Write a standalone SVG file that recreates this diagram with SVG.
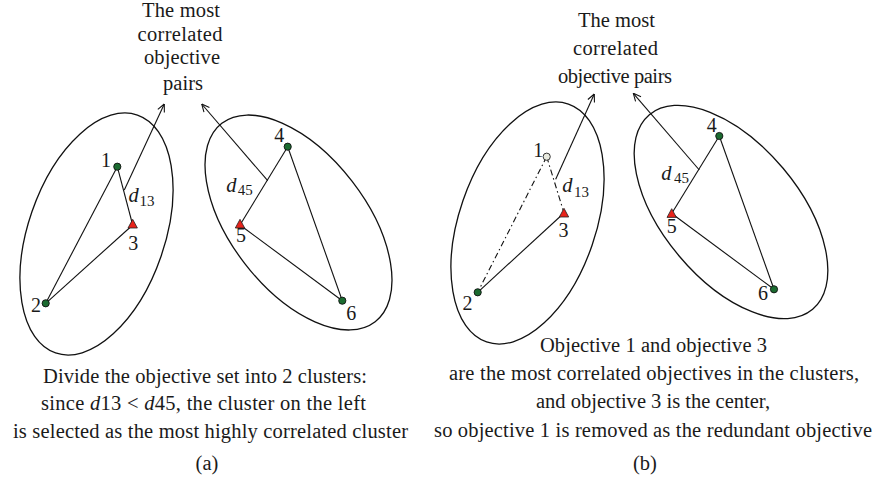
<svg xmlns="http://www.w3.org/2000/svg" width="876" height="487" viewBox="0 0 876 487">
<style>
text{font-family:"Liberation Serif","Times New Roman",serif;fill:#1a1a1a;font-size:20.5px}
.m{text-anchor:middle}
.it{font-style:italic}
.sub{font-size:15px}
.lbl{font-size:20px}
.edge{stroke:#111;stroke-width:1.1;fill:none}
.dd{stroke-dasharray:6 3 1.5 3}
.arr{stroke:#111;stroke-width:1.1;fill:none;marker-end:url(#ah)}
.cl{stroke:#111;stroke-width:1.3;fill:none}
.g{fill:#1b6b30;stroke:#111;stroke-width:0.9}
.w{fill:#e8eadf;stroke:#222;stroke-width:0.9}
.r{fill:#e8231b;stroke:#222;stroke-width:0.8}
</style>
<defs>
<marker id="ah" viewBox="0 0 10 10" refX="9.5" refY="5" markerWidth="9" markerHeight="9" markerUnits="userSpaceOnUse" orient="auto">
<path d="M1,1 L9.5,5 L1,9" fill="none" stroke="#111" stroke-width="1.2"/>
</marker>
</defs>

<g id="clusters">
<ellipse class="cl" cx="96.5" cy="234" rx="68.3" ry="125.8" transform="rotate(19 96.5 234)"/>
<ellipse class="cl" cx="298.5" cy="222.5" rx="125.4" ry="67.6" transform="rotate(52.3 298.5 222.5)"/>
<ellipse class="cl" cx="527.5" cy="223" rx="68.3" ry="125.8" transform="rotate(19 527.5 223)"/>
<ellipse class="cl" cx="731" cy="212" rx="127" ry="68" transform="rotate(50 731 212)"/>
</g>

<g id="connectors">
<line class="edge" x1="117.3" y1="166.7" x2="45.7" y2="303.3"/>
<line class="edge" x1="117.3" y1="166.7" x2="132.7" y2="225"/>
<line class="edge" x1="45.7" y1="303.3" x2="132.7" y2="225"/>
<line class="edge" x1="287.7" y1="146.7" x2="240" y2="225"/>
<line class="edge" x1="287.7" y1="146.7" x2="342.3" y2="300.7"/>
<line class="edge" x1="240" y1="225" x2="342.3" y2="300.7"/>
<line class="arr" x1="124.3" y1="190" x2="164.3" y2="104"/>
<line class="arr" x1="267.7" y1="180.7" x2="201.7" y2="104"/>

<line class="edge dd" x1="546.7" y1="156.7" x2="477.7" y2="292.3"/>
<line class="edge dd" x1="546.7" y1="156.7" x2="564" y2="213"/>
<line class="edge" x1="477.7" y1="292.3" x2="564" y2="213"/>
<line class="edge" x1="719.3" y1="136" x2="671.7" y2="213.5"/>
<line class="edge" x1="719.3" y1="136" x2="774" y2="289.3"/>
<line class="edge" x1="671.7" y1="213.5" x2="774" y2="289.3"/>
<line class="arr" x1="555.7" y1="179.3" x2="594.3" y2="94"/>
<line class="arr" x1="699.3" y1="170" x2="633.3" y2="93.3"/>
</g>

<g id="a-n1"><circle class="g" cx="117.3" cy="166.7" r="3.6"/><text class="m lbl" x="106" y="167">1</text></g>
<g id="a-n2"><circle class="g" cx="45.7" cy="303.3" r="3.6"/><text class="m lbl" x="36" y="312">2</text></g>
<g id="a-n3"><polygon class="r" points="132.7,219.3 128,228 137.4,228"/><text class="m lbl" x="133.2" y="250">3</text></g>
<g id="a-n4"><circle class="g" cx="287.7" cy="146.7" r="3.6"/><text class="m lbl" x="279.3" y="142">4</text></g>
<g id="a-n5"><polygon class="r" points="240,219.3 235.3,228 244.7,228"/><text class="m lbl" x="241" y="241.7">5</text></g>
<g id="a-n6"><circle class="g" cx="342.3" cy="300.7" r="3.6"/><text class="m lbl" x="351.3" y="320">6</text></g>
<g id="a-d13"><text x="128.5" y="201.7" class="it">d</text><text class="sub" x="139.5" y="206">13</text></g>
<g id="a-d45"><text x="226.2" y="191.7" class="it">d</text><text class="sub" x="237.7" y="195">45</text></g>

<g id="b-n1"><circle class="w" cx="546.7" cy="156.7" r="3.6"/><text class="m lbl" x="538.3" y="156.5">1</text></g>
<g id="b-n2"><circle class="g" cx="477.7" cy="292.3" r="3.6"/><text class="m lbl" x="467.5" y="310">2</text></g>
<g id="b-n3"><polygon class="r" points="564,208.3 559.3,217 568.7,217"/><text class="m lbl" x="563.5" y="236.7">3</text></g>
<g id="b-n4"><circle class="g" cx="719.3" cy="136" r="3.6"/><text class="m lbl" x="711.8" y="131.7">4</text></g>
<g id="b-n5"><polygon class="r" points="671.7,208.7 667,217.4 676.4,217.4"/><text class="m lbl" x="671.7" y="233.3">5</text></g>
<g id="b-n6"><circle class="g" cx="774" cy="289.3" r="3.6"/><text class="m lbl" x="763" y="300">6</text></g>
<g id="b-d13"><text x="562.2" y="191.7" class="it">d</text><text class="sub" x="574" y="197.3">13</text></g>
<g id="b-d45"><text x="661.2" y="179.5" class="it">d</text><text class="sub" x="674" y="182.5">45</text></g>

<g id="a-title">
<text class="m" x="181" y="17" textLength="78">The most</text>
<text class="m" x="180" y="41" textLength="85">correlated</text>
<text class="m" x="182" y="64" textLength="76">objective</text>
<text class="m" x="183" y="90" textLength="40">pairs</text>
</g>
<g id="b-title">
<text class="m" x="616.5" y="27" textLength="77">The most</text>
<text class="m" x="615.5" y="55" textLength="85">correlated</text>
<text class="m" x="615" y="83" textLength="114">objective pairs</text>
</g>

<g id="a-caption">
<text class="m" x="205" y="383" textLength="324">Divide the objective set into 2 clusters:</text>
<text class="m" x="203.5" y="410" textLength="325">since <tspan class="it">d</tspan>13 &lt; <tspan class="it">d</tspan>45, the cluster on the left</text>
<text class="m" x="210.5" y="438" textLength="395">is selected as the most highly correlated cluster</text>
<text class="m" x="207" y="470">(a)</text>
</g>
<g id="b-caption">
<text class="m" x="653.5" y="352" textLength="227">Objective 1 and objective 3</text>
<text class="m" x="654" y="380" textLength="410">are the most correlated objectives in the clusters,</text>
<text class="m" x="653" y="408" textLength="234">and objective 3 is the center,</text>
<text class="m" x="653" y="437" textLength="438">so objective 1 is removed as the redundant objective</text>
<text class="m" x="645" y="470">(b)</text>
</g>
</svg>
